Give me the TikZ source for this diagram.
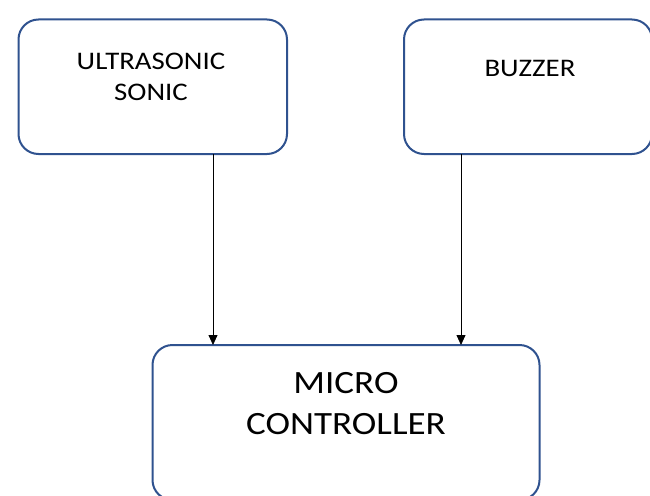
\documentclass[tikz,border=0pt]{standalone}
\usepackage{fontspec}
\setmainfont{Carlito}[FakeStretch=1.14]
\usetikzlibrary{arrows.meta}
\definecolor{boxblue}{RGB}{47,82,143}
\tikzset{
  blk/.style={draw=boxblue, line width=2pt, rounded corners=20pt, fill=white},
  lbl/.style={font=\fontsize{25.3}{31}\selectfont, align=center, inner sep=0pt},
  biglbl/.style={font=\fontsize{32.5}{40.7}\selectfont, align=center, inner sep=0pt},
  conn/.style={draw=black, line width=0.8pt, -{Triangle[width=9pt,length=10pt]}}
}
\begin{document}
\begin{tikzpicture}[x=1pt,y=-1pt]
\useasboundingbox (0,0) rectangle (650,495);
\clip (0,0) rectangle (650,495);
\path[blk] (18.5,19.5) rectangle (287,154);
\path[blk] (404,19.5) rectangle (652,154);
\path[blk] (152.5,345) rectangle (539.5,500);
\coordinate (us) at (213,154);
\coordinate (bz) at (461,154);
\coordinate (mc1) at (213,345);
\coordinate (mc2) at (461,345);
\node[lbl] (t1) at (151,77) {ULTRASONIC\\SONIC};
\node[lbl] (t2) at (530,68) {BUZZER};
\node[biglbl] (t3) at (346,403.5) {MICRO\\CONTROLLER};
\draw[conn] (us) -- (mc1);
\draw[conn] (bz) -- (mc2);
\end{tikzpicture}
\end{document}
